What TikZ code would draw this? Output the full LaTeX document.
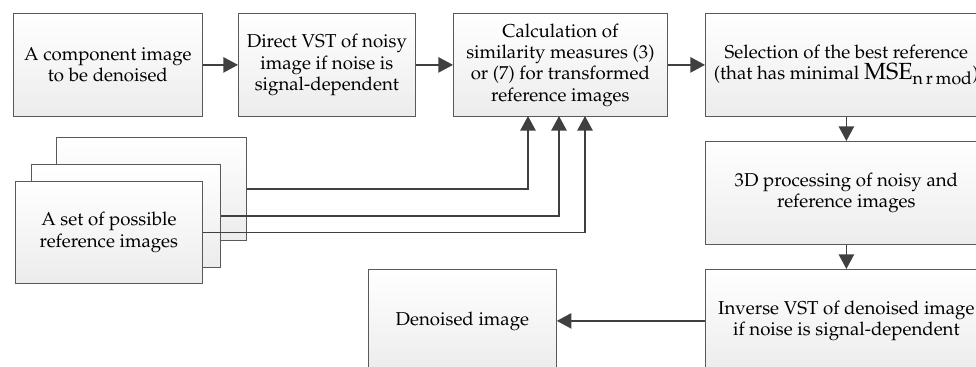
\documentclass[tikz,border=0pt]{standalone}
\usepackage[T1]{fontenc}
\usepackage{mathpazo}
\usepackage{tikz}
\usetikzlibrary{calc,arrows.meta}
\tikzstyle{rect} = [rectangle, draw=black!65, line width=0.6pt, top color=white, bottom color=gray!15, minimum height=77.25pt, minimum width=141.75pt, text centered, align=center, anchor=north west, font=\fontsize{14}{16}\selectfont]
\tikzstyle{arr} = [draw=black!75, line width=1.3pt, -{Triangle[length=11pt,width=11.5pt]}]

\begin{document}
\begin{tikzpicture}[x=0.75pt,y=-0.75pt]
            \useasboundingbox (0,0) rectangle (976,367);
            \clip (0,0) rectangle (976,367);

            \node (comp) [rect] at (13,13) {A component image\\to be denoised};
            \node (vst) [rect, minimum width=132.75pt] at (238,13) {Direct VST of noisy\\image if noise is\\signal-dependent};
            \node (calc) [rect, minimum width=160.5pt] at (453,13) {Calculation of\\similarity measures (3)\\or (7) for transformed\\reference images};
            \node (best) [rect, minimum width=211.5pt] at (705,13) {Selection of the best reference\\(that has minimal {\fontsize{17.5}{17.5}\selectfont$\mathrm{MSE}_{\mathrm{n\,r\,mod}}$})};
            \node (proc) [rect, minimum width=211.5pt] at (705,141) {3D processing of noisy and\\reference images};
            \node (inv) [rect, minimum width=211.5pt] at (705,269) {Inverse VST of denoised image\\if noise is signal-dependent};
            \node (out) [rect, minimum width=141pt] at (368,269) {Denoised image};

            \node (set3) [rect, minimum width=142.5pt] at (56,137) {};
            \node (set2) [rect] at (31,164) {};
            \node (set1) [rect, minimum width=140.25pt, minimum height=76.5pt] at (15,181) {A set of possible\\reference images};

            \coordinate (in1) at (528,116);
            \coordinate (in2) at (559,116);
            \coordinate (in3) at (585,116);

            \draw[arr] (comp) -- (vst);
            \draw[arr] (vst) -- (calc);
            \draw[arr] (calc) -- (best);
            \draw[arr] (best) -- (proc);
            \draw[arr] (proc) -- (inv);
            \draw[arr] (inv) -- (out);

            \draw[arr] (set3.east) -| (in1);
            \draw[arr] (set2.east) -| (in2);
            \draw[arr] (set1.east) -| (in3);
        \end{tikzpicture}
\end{document}
